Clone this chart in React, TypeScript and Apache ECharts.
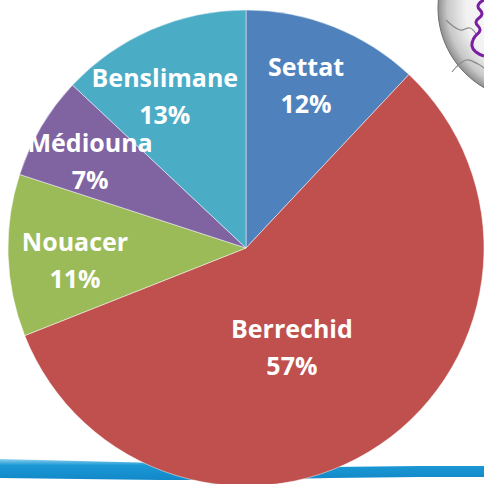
import React, { useEffect, useRef } from "react";
import * as echarts from "echarts";

const categories = ["Settat", "Berrechid", "Nouacer", "Médiouna", "Benslimane"];
const shares = [12, 57, 11, 7, 13];
const sliceColors = ["#4F81BD", "#C0504D", "#9BBB59", "#8064A2", "#4BACC6"];

// label placement (layout only): radius fraction and angle nudge (degrees)
const labelRadiusFrac = [0.73, 0.458, 0.72, 0.752, 0.724];
const labelAngleNudge = [-1.4, 9.3, -2.0, -1.2, -4.7];

const CX = 246;
const CY = 248;
const R = 238;

export default function App() {
  const ref = useRef<HTMLDivElement>(null);
  useEffect(() => {
    if (!ref.current) return;
    const chart = echarts.init(ref.current, null, { renderer: "svg" });
    const total = shares.reduce((a, b) => a + b, 0);
    const starts: number[] = [];
    let acc = 0;
    shares.forEach((v) => {
      starts.push(acc);
      acc += v;
    });
    chart.setOption({
      animation: false,
      backgroundColor: "#ffffff",
      graphic: [
        {
          type: "polygon",
          z: -10,
          silent: true,
          shape: {
            points: [
              [-5, 459], [80, 461], [160, 463], [240, 465], [330, 467], [420, 466], [490, 466],
              [490, 477], [420, 477], [330, 478], [240, 480], [160, 480], [80, 479], [-5, 478],
            ],
          },
          style: {
            fill: new echarts.graphic.LinearGradient(0, 0, 0, 1, [
              { offset: 0, color: "#8fd0ee" },
              { offset: 0.3, color: "#1b98d5" },
              { offset: 1, color: "#1288c8" },
            ]),
          },
        },
        {
          type: "circle",
          z: -10,
          silent: true,
          shape: { cx: 530, cy: 8, r: 92 },
          style: {
            fill: new echarts.graphic.RadialGradient(0.5, 0.5, 0.5, [
              { offset: 0, color: "#ffffff" },
              { offset: 0.7, color: "#f2f2f2" },
              { offset: 0.9, color: "#c8c8c8" },
              { offset: 1, color: "#8f8f8f" },
            ]),
            stroke: "#6f6f6f",
            lineWidth: 1,
          },
        },
        {
          type: "polyline",
          z: -9,
          silent: true,
          shape: {
            points: [[446, 20], [460, 30], [470, 28], [476, 34]],
            smooth: 0.4,
          },
          style: { stroke: "#8a8a8a", lineWidth: 1.2, fill: null },
        },
        {
          type: "polyline",
          z: -9,
          silent: true,
          shape: {
            points: [[452, 72], [466, 60], [478, 64], [484, 68]],
            smooth: 0.4,
          },
          style: { stroke: "#8a8a8a", lineWidth: 1.2, fill: null },
        },
        {
          type: "polyline",
          z: -9,
          silent: true,
          shape: {
            points: [
              [484, 0], [478, 6], [482, 14], [476, 22], [480, 30], [474, 38],
              [472, 46], [476, 52], [484, 56],
            ],
            smooth: 0.5,
          },
          style: { stroke: "#7a1fa2", lineWidth: 3, fill: null },
        },
      ],
      series: [
        {
          type: "pie",
          center: [CX, CY],
          radius: [0, R],
          startAngle: 90,
          clockwise: true,
          percentPrecision: 0,
          avoidLabelOverlap: false,
          itemStyle: { borderColor: "rgba(255,255,255,0.6)", borderWidth: 0.8 },
          label: {
            show: true,
            position: "inside",
            formatter: "{b}\n{d}%",
            color: "#ffffff",
            fontFamily: "Open Sans",
            fontWeight: "bold",
            fontSize: 25,
            lineHeight: 37,
            align: "center",
            verticalAlign: "middle",
          },
          labelLine: { show: false },
          labelLayout: (params: any) => {
            const i = params.dataIndex;
            const mid = ((starts[i] + shares[i] / 2) / total) * 360 + labelAngleNudge[i];
            const rad = (mid * Math.PI) / 180;
            const r = R * labelRadiusFrac[i];
            return {
              x: CX + r * Math.sin(rad),
              y: CY - r * Math.cos(rad),
              align: "center",
              verticalAlign: "middle",
            };
          },
          data: categories.map((name, i) => ({
            name,
            value: shares[i],
            itemStyle: { color: sliceColors[i] },
          })),
        },
      ],
    });
    return () => chart.dispose();
  }, []);
  return (
    <div
      ref={ref}
      style={{ position: "absolute", left: 0, top: 0, width: 484, height: 484 }}
    />
  );
}
